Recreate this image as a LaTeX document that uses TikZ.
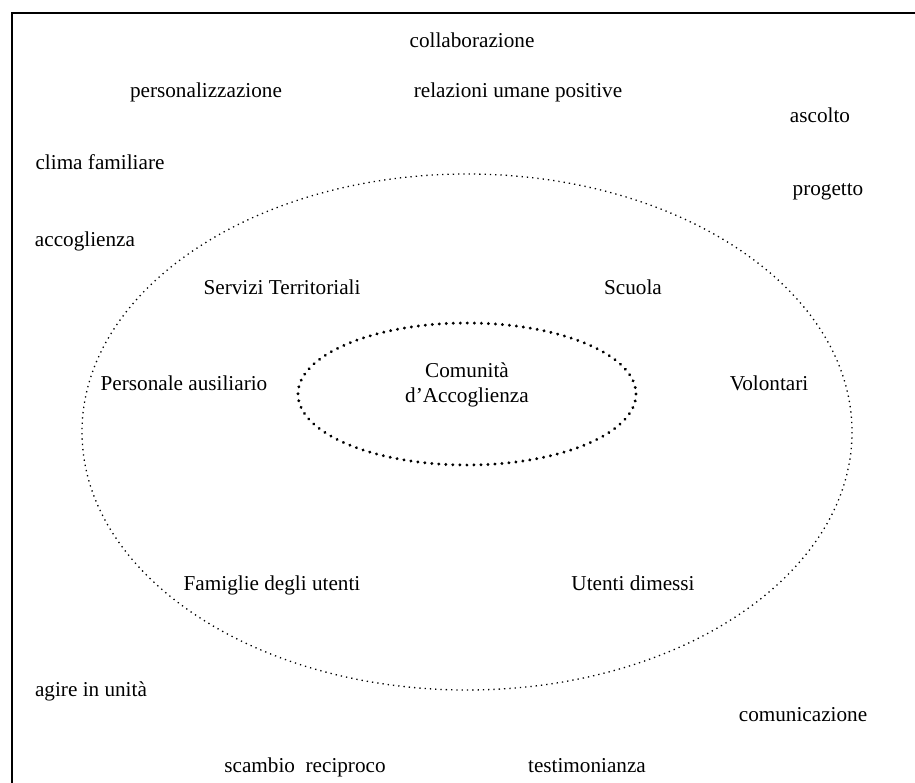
\documentclass[tikz,border=0pt]{standalone}
\usepackage{fontspec}
\setmainfont{Liberation Serif}
\begin{document}
\begin{tikzpicture}[x=0.5pt,y=-0.5pt,
  lbl/.style={anchor=base,inner sep=0pt,font=\fontsize{10.6pt}{12.5pt}\selectfont},
  outerring/.style={draw,line width=0.65pt,dotted},
  innerring/.style={draw,line width=1.6pt,dash pattern=on 0.01pt off 3.5pt,line cap=round}]
\useasboundingbox (0,0) rectangle (915,782);
\clip (0,0) rectangle (915,782);
\draw[line width=1.1pt] (12,820) -- (12,13) -- (940,13);
% rings
\draw[outerring] (467,432) ellipse [x radius=385, y radius=258];
\draw[innerring] (467,394) ellipse [x radius=169, y radius=71];
% outer words
\node[lbl] (collab) at (472,47) {collaborazione};
\node[lbl] (pers) at (206,97) {personalizzazione};
\node[lbl] (relaz) at (518,97) {relazioni umane positive};
\node[lbl] (ascolto) at (820,122) {ascolto};
\node[lbl] (clima) at (100,169) {clima familiare};
\node[lbl] (progetto) at (828,195) {progetto};
\node[lbl] (accogl) at (85,246) {accoglienza};
\node[lbl] (agire) at (91,696) {agire in unità};
\node[lbl] (comunic) at (803,721) {comunicazione};
\node[lbl] (scambio) at (305,772) {scambio\ \ reciproco};
\node[lbl] (testim) at (587,772) {testimonianza};
% ring words
\node[lbl] (servizi) at (282,294) {Servizi Territoriali};
\node[lbl] (scuola) at (633,294) {Scuola};
\node[lbl] (personale) at (184,390) {Personale ausiliario};
\node[lbl] (volontari) at (769,390) {Volontari};
\node[lbl] (famiglie) at (272,590) {Famiglie degli utenti};
\node[lbl] (utenti) at (633,590) {Utenti dimessi};
% centre
\node[lbl] (comunita) at (467,377) {Comunità};
\node[lbl] (daccogl) at (467,402) {d’Accoglienza};
\end{tikzpicture}
\end{document}
